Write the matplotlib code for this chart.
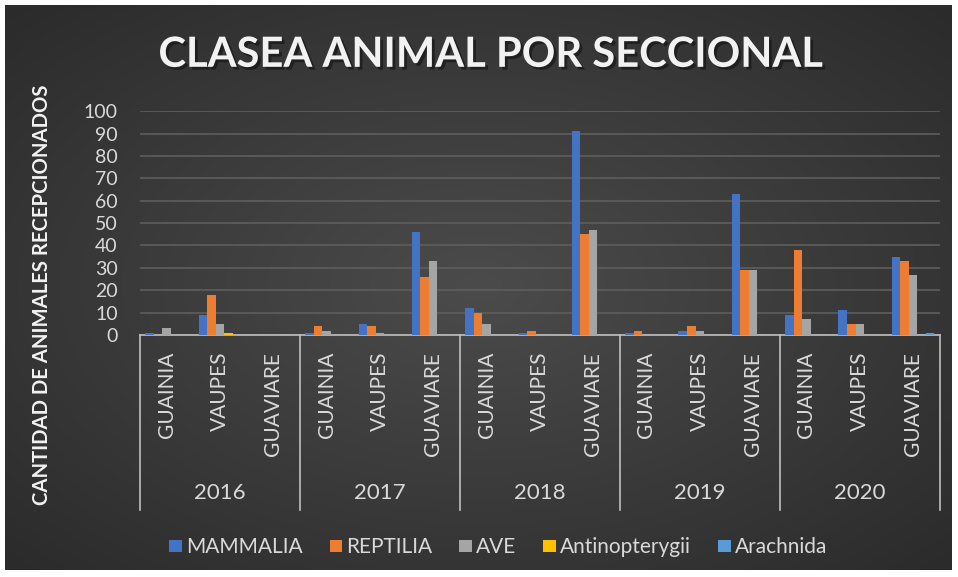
import numpy as np
import matplotlib.pyplot as plt
import matplotlib.patheffects as pe

plt.rcParams['font.family'] = ['Lato', 'DejaVu Sans']

# donnees
anios = ['2016', '2017', '2018', '2019', '2020']
seccionales = ['GUAINIA', 'VAUPES', 'GUAVIARE']
series = ['MAMMALIA', 'REPTILIA', 'AVE', 'Antinopterygii', 'Arachnida']
colores = ['#4472C4', '#ED7D31', '#A5A5A5', '#FFC000', '#5B9BD5']

mammalia = [1, 9, 0, 1, 5, 46, 12, 1, 91, 1, 2, 63, 9, 11, 35]
reptilia = [0, 18, 0, 4, 4, 26, 10, 2, 45, 2, 4, 29, 38, 5, 33]
ave = [3, 5, 0, 2, 1, 33, 5, 0, 47, 0, 2, 29, 7, 5, 27]
antinopterygii = [0, 1, 0, 0, 0, 0, 0, 0, 0, 0, 0, 0, 0, 0, 0]
arachnida = [0, 0, 0, 0, 0, 0, 0, 0, 0, 0, 0, 0, 0, 0, 1]
valores = [mammalia, reptilia, ave, antinopterygii, arachnida]

fig = plt.figure(figsize=(9.58, 5.77), dpi=100)

# fond degrade sombre
fond = fig.add_axes([0.005, 0.012, 0.988, 0.98])
gx, gy = np.meshgrid(np.linspace(-1, 1, 300), np.linspace(-1, 1, 200))
r = np.sqrt(gx ** 2 + gy ** 2) / np.sqrt(2)
fond.imshow(r, cmap=plt.matplotlib.colors.LinearSegmentedColormap.from_list('g', ['#4b4b4b', '#2b2b2b']),
            aspect='auto', extent=[0, 1, 0, 1])
fond.axis('off')

ax = fig.add_axes([0.146, 0.4194, 0.835, 0.388])
ax.set_facecolor('none')
x = np.arange(len(mammalia))
w = 0.16
for i in range(len(series)):
    ax.bar(x + (i - 2) * w, valores[i], w, color=colores[i], label=series[i], zorder=3)

ax.set_xlim(-0.5, len(mammalia) - 0.5)
ax.set_ylim(0, 100)
ax.set_yticks(range(0, 101, 10))
ax.tick_params(axis='y', colors='#d9d9d9', labelsize=14, length=0, pad=16)
ax.set_xticks([])
ax.grid(axis='y', color='#5e5e5e', linewidth=1.2, zorder=0)
for s in ['top', 'right', 'left']:
    ax.spines[s].set_visible(False)
ax.spines['bottom'].set_color('#bfbfbf')
ax.spines['bottom'].set_linewidth(1.2)

# axe a deux niveaux
tr = ax.get_xaxis_transform()
for k in range(len(mammalia)):
    ax.text(k, -0.075, seccionales[k % 3], transform=tr, rotation=90, ha='center', va='top',
            color='#d9d9d9', fontsize=15, clip_on=False)
for j in range(len(anios)):
    ax.text(j * 3 + 1, -0.705, anios[j], transform=tr, ha='center', va='center',
            color='#d9d9d9', fontsize=16, clip_on=False)
for j in range(len(anios) + 1):
    ax.plot([j * 3 - 0.5, j * 3 - 0.5], [0, -0.78], transform=tr, color='#bfbfbf',
            linewidth=1.2, clip_on=False)

fig.text(0.044, 0.489, 'CANTIDAD DE ANIMALES RECEPCIONADOS', rotation=90, ha='center', va='center',
         color='#f2f2f2', fontsize=14.6, fontweight='bold')
fig.text(0.512, 0.905, 'CLASEA ANIMAL POR SECCIONAL', ha='center', va='center', color='#f2f2f2',
         fontsize=30, fontweight='bold',
         path_effects=[pe.withSimplePatchShadow(offset=(2, -2), shadow_rgbFace='#111111', alpha=0.6)])

leg = fig.legend(loc='center', bbox_to_anchor=(0.52, 0.052), ncol=5, frameon=False,
                 fontsize=15, handlelength=0.6, handleheight=0.5, handletextpad=0.2,
                 columnspacing=1.3)
for t in leg.get_texts():
    t.set_color('#d9d9d9')

plt.savefig('out.png', dpi=100)
